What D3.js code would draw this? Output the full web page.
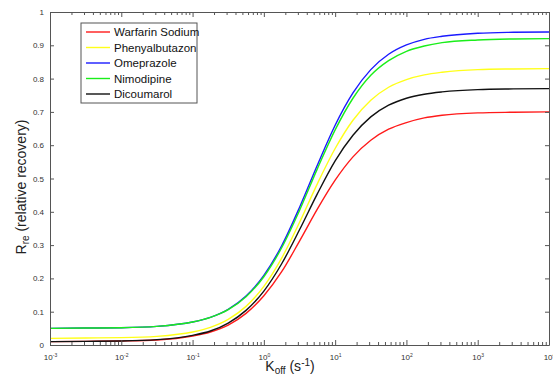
<!DOCTYPE html>
<html>
<head>
<meta charset="utf-8">
<script src="https://cdn.jsdelivr.net/npm/d3@7/dist/d3.min.js"></script>
<style>
  body { margin: 0; background: #fff; }
  svg { display: block; font-family: "Liberation Sans", Arial, sans-serif; }
  .axis path, .axis line { stroke: #555; }
  .axis text { fill: #333; font-size: 8px; }
</style>
</head>
<body>
<svg id="chart" width="553" height="378"></svg>
<script>
// log10 of Koff where values were read
var logK = [-3, -2.5, -2, -1.5, -1, -0.75, -0.5, -0.25, 0, 0.25, 0.5, 0.75, 1, 1.25, 1.5, 1.75, 2, 2.25, 2.5, 3, 3.5, 4];

var warfarin      = [0.010, 0.011, 0.012, 0.015, 0.027, 0.039, 0.060, 0.095, 0.148, 0.220, 0.312, 0.408, 0.495, 0.565, 0.615, 0.648, 0.668, 0.682, 0.690, 0.697, 0.699, 0.700];
var phenylbutazon = [0.020, 0.021, 0.022, 0.026, 0.039, 0.053, 0.077, 0.116, 0.176, 0.261, 0.368, 0.484, 0.590, 0.675, 0.735, 0.774, 0.797, 0.811, 0.819, 0.827, 0.829, 0.830];
var omeprazole    = [0.050, 0.051, 0.052, 0.056, 0.069, 0.083, 0.107, 0.147, 0.209, 0.298, 0.413, 0.540, 0.660, 0.757, 0.827, 0.873, 0.901, 0.918, 0.927, 0.936, 0.939, 0.940];
var nimodipine    = [0.050, 0.051, 0.052, 0.056, 0.069, 0.083, 0.106, 0.145, 0.205, 0.292, 0.404, 0.529, 0.646, 0.741, 0.810, 0.854, 0.882, 0.898, 0.908, 0.916, 0.919, 0.920];
var dicoumarol    = [0.010, 0.011, 0.012, 0.016, 0.029, 0.042, 0.066, 0.104, 0.162, 0.244, 0.346, 0.454, 0.553, 0.630, 0.685, 0.720, 0.741, 0.753, 0.760, 0.767, 0.769, 0.770];

var seriesNames = ["Warfarin Sodium", "Phenyalbutazon", "Omeprazole", "Nimodipine", "Dicoumarol"];
var seriesValues = [warfarin, phenylbutazon, omeprazole, nimodipine, dicoumarol];
var colors = ["#ff1a1a", "#ffff1a", "#1a1aff", "#1aee1a", "#111111"];
var drawOrder = [0, 1, 2, 3, 4];

var xMajor = [-3, -2, -1, 0, 1, 2, 3, 4];
var yTicks = [0, 0.1, 0.2, 0.3, 0.4, 0.5, 0.6, 0.7, 0.8, 0.9, 1];

var margin = {top: 12, right: 4, bottom: 33, left: 50},
    width = 553 - margin.left - margin.right,
    height = 378 - margin.top - margin.bottom;

var svg = d3.select("#chart");
var g = svg.append("g").attr("transform", "translate(" + margin.left + "," + margin.top + ")");

var x = d3.scaleLog().domain([1e-3, 1e4]).range([0, width]);
var y = d3.scaleLinear().domain([0, 1]).range([height, 0]);

var majors = xMajor.map(function(p) { return Math.pow(10, p); });
var minors = [];
xMajor.slice(0, -1).forEach(function(p) {
  for (var k = 2; k <= 9; k++) minors.push(k * Math.pow(10, p));
});

// curves
var line = d3.line()
  .x(function(d) { return x(Math.pow(10, d[0])); })
  .y(function(d) { return y(d[1]); })
  .curve(d3.curveMonotoneX);

drawOrder.forEach(function(i) {
  g.append("path")
    .datum(logK.map(function(k, j) { return [k, seriesValues[i][j]]; }))
    .attr("fill", "none")
    .attr("stroke", colors[i])
    .attr("stroke-width", 1.4)
    .attr("d", line);
});

// bottom axis
var bottom = g.append("g").attr("class", "axis")
  .attr("transform", "translate(0," + height + ")")
  .call(d3.axisBottom(x).tickValues(majors).tickSize(-5).tickSizeOuter(0).tickPadding(9).tickFormat(""));
bottom.selectAll(".tick text").each(function(d, i) {
  var t = d3.select(this);
  t.append("tspan").text("10");
  t.append("tspan").attr("dy", "-0.6em").style("font-size", "5px").text(xMajor[i]);
});
g.append("g").attr("class", "axis")
  .attr("transform", "translate(0," + height + ")")
  .call(d3.axisBottom(x).tickValues(minors).tickSize(-3).tickSizeOuter(0).tickFormat(""))
  .select(".domain").remove();

// top axis
g.append("g").attr("class", "axis")
  .call(d3.axisTop(x).tickValues(majors).tickSize(-5).tickSizeOuter(0).tickFormat(""));
g.append("g").attr("class", "axis")
  .call(d3.axisTop(x).tickValues(minors).tickSize(-3).tickSizeOuter(0).tickFormat(""))
  .select(".domain").remove();

// left / right axes
g.append("g").attr("class", "axis")
  .call(d3.axisLeft(y).tickValues(yTicks).tickSize(-4).tickSizeOuter(0).tickPadding(6)
    .tickFormat(function(d) { return (d === 0 || d === 1) ? d3.format("d")(d) : d3.format(".1f")(d); }));
g.append("g").attr("class", "axis")
  .attr("transform", "translate(" + width + ",0)")
  .call(d3.axisRight(y).tickValues(yTicks).tickSize(-4).tickSizeOuter(0).tickFormat(""));

// axis titles
var xt = svg.append("text")
  .attr("x", 290).attr("y", 371)
  .attr("text-anchor", "middle")
  .style("font-size", "14px").style("fill", "#222");
xt.append("tspan").text("K");
xt.append("tspan").attr("dy", "3").style("font-size", "10px").text("off");
xt.append("tspan").attr("dy", "-3").text(" (s");
xt.append("tspan").attr("dy", "-5").style("font-size", "10px").text("-1");
xt.append("tspan").attr("dy", "5").text(")");

var yt = svg.append("text")
  .attr("transform", "translate(26," + 187 + ") rotate(-90)")
  .attr("text-anchor", "middle")
  .style("font-size", "14px").style("fill", "#222");
yt.append("tspan").text("R");
yt.append("tspan").attr("dy", "3").style("font-size", "10px").text("re");
yt.append("tspan").attr("dy", "-3").text(" (relative recovery)");

// legend
var legend = svg.append("g").attr("transform", "translate(81,23)");
legend.append("rect")
  .attr("width", 116).attr("height", 80)
  .attr("fill", "#fff").attr("stroke", "#555").attr("stroke-width", 1);
var item = legend.selectAll(".item")
  .data(seriesNames)
  .enter().append("g")
  .attr("class", "item")
  .attr("transform", function(d, i) { return "translate(0," + (9 + i * 15.5) + ")"; });
item.append("line")
  .attr("x1", 5).attr("x2", 29)
  .attr("stroke", function(d, i) { return colors[i]; })
  .attr("stroke-width", 1.4);
item.append("text")
  .attr("x", 33).attr("dy", "0.35em")
  .style("font-size", "11.5px").style("fill", "#111")
  .text(function(d) { return d; });
</script>
</body>
</html>
